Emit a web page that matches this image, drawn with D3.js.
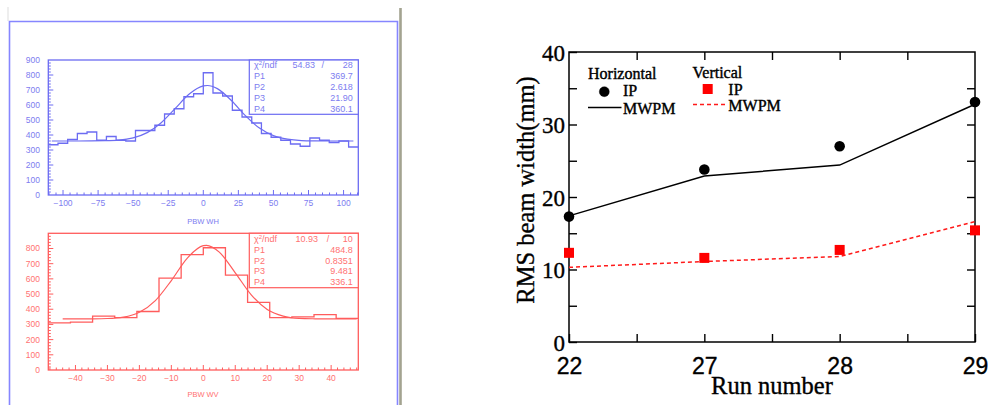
<!DOCTYPE html>
<html><head><meta charset="utf-8">
<script src="https://cdn.jsdelivr.net/npm/d3@7"></script>
<style>
body{margin:0;background:#fff;}
svg{display:block;}
</style></head><body>
<script>
const W = 991, H = 405;

// ---- left: two histograms with gaussian fits ----
const whCounts = [335,345,370,410,420,365,390,365,360,430,430,465,540,575,655,675,815,680,660,565,520,480,410,385,365,340,325,380,365,350,360,320];
const wvCounts = [310,315,355,345,385,605,760,805,625,445,345,350,365,340];
const whFitX = [-108,-90,-70,-60,-50,-40,-30,-20,-10,0,3,10,20,30,40,50,60,70,80,95,107];
const whFitY = [360,360,362,366,381,416,482,577,673,727,730,709,630,529,446,396,372,363,361,360,360];
const wvFitX = [-44,-35,-30,-25,-20,-15,-10,-5,0,1,5,10,15,20,25,30,35,40,48];
const wvFitY = [336,337,339,348,380,457,589,737,819,821,776,640,495,399,355,340,337,336,336];
const whStats = [["P1","369.7"],["P2","2.618"],["P3","21.90"],["P4","360.1"]];
const wvStats = [["P1","484.8"],["P2","0.8351"],["P3","9.481"],["P4","336.1"]];

// ---- right: RMS beam width per run ----
const runs = ["22","27","28","29"];
const hIP = [17.3,23.8,27.0,33.1];
const hMWPM = [17.4,22.9,24.4,32.8];
const vIP = [12.3,11.6,12.7,15.4];
const vMWPM = [10.3,11.1,11.8,16.6];

const svg = d3.select('body').append('svg').attr('width', W).attr('height', H);

// window frame bits
svg.append('line').attr('x1',8).attr('x2',8).attr('y1',7).attr('y2',21)
  .attr('stroke','#ddd').attr('stroke-width',1);
svg.append('path').attr('d','M9.5,405V21.5H397.5V405')
  .attr('fill','none').attr('stroke','#8686ff').attr('stroke-width',1.6);
svg.append('line').attr('x1',400.5).attr('x2',400.5).attr('y1',8).attr('y2',405)
  .attr('stroke','#a3a390').attr('stroke-width',2.6);

function histPanel(o) {
  const g = svg.append('g');
  const x = d3.scaleLinear().domain(o.xdom).range([48.3, 358.3]);
  const y = d3.scaleLinear().domain([0, 900]).range([o.bottom, o.top]);
  const n = o.counts.length;
  const bx = d3.scaleLinear().domain([0, n]).range(x.range());
  const font = '"Liberation Sans", Arial, sans-serif';

  // frame
  g.append('rect').attr('x', x.range()[0]).attr('y', o.top)
    .attr('width', x.range()[1]-x.range()[0]).attr('height', o.bottom-o.top)
    .attr('fill','none').attr('stroke', o.col).attr('stroke-width',1.3);

  // ticks inward
  const minorX = d3.range(Math.ceil(o.xdom[0]/o.minX)*o.minX, o.xdom[1], o.minX);
  g.selectAll('.mx').data(minorX).join('line')
    .attr('x1', d => x(d)).attr('x2', d => x(d))
    .attr('y1', o.bottom).attr('y2', d => o.bottom - (Math.abs(d % o.majX) < 1e-6 ? 5 : 2.5))
    .attr('stroke', o.col).attr('stroke-width',1);
  g.selectAll('.my').data(d3.range(20, 900, 20)).join('line')
    .attr('y1', d => y(d)).attr('y2', d => y(d))
    .attr('x1', x.range()[0]).attr('x2', d => x.range()[0] + (d % 100 === 0 ? 5 : 2.5))
    .attr('stroke', o.col).attr('stroke-width',1);

  // labels
  g.selectAll('.ly').data(o.yLabels).join('text')
    .attr('x', 40).attr('y', d => y(d) + 3).attr('text-anchor','end')
    .attr('font-family', font).attr('font-size', 8.5).attr('fill', o.txt)
    .text(d => d);
  g.selectAll('.lx').data(o.xLabels).join('text')
    .attr('x', d => x(d)).attr('y', o.bottom + 11).attr('text-anchor','middle')
    .attr('font-family', font).attr('font-size', 8.5).attr('fill', o.txt)
    .text(d => d3.format('')(d));
  g.append('text').attr('x', 203).attr('y', o.titleY).attr('text-anchor','middle')
    .attr('font-family', font).attr('font-size', 7.5).attr('fill', o.txt)
    .text(o.title);

  // histogram steps
  const pts = o.counts.map((c, i) => [bx(i), y(c)]);
  pts.push([bx(n), y(o.counts[n-1])]);
  g.append('path').attr('d', d3.line().curve(d3.curveStepAfter)(pts))
    .attr('fill','none').attr('stroke', o.col).attr('stroke-width',1.3);

  // fit curve
  g.append('path')
    .attr('d', d3.line().x((d,i) => x(o.fitX[i])).y(d => y(d)).curve(d3.curveMonotoneX)(o.fitY))
    .attr('fill','none').attr('stroke', o.col).attr('stroke-width',1.2);

  // stats box
  const sb = {x0: 249.3, x1: 358.3, y0: o.top, y1: o.statsBottom};
  g.append('rect').attr('x', sb.x0).attr('y', sb.y0).attr('width', sb.x1-sb.x0).attr('height', sb.y1-sb.y0)
    .attr('fill','#fff').attr('stroke', o.col).attr('stroke-width',1.2);
  const rowH = (sb.y1 - sb.y0) / 5;
  const st = g.append('g').attr('font-family', font).attr('font-size', 9).attr('fill', o.txt);
  const r0 = sb.y0 + rowH*0.5 + 3;
  const chi = st.append('text').attr('x', 254).attr('y', r0);
  chi.append('tspan').text('χ');
  chi.append('tspan').attr('font-size',6).attr('dy',-3).text('2');
  chi.append('tspan').attr('dy',3).text('/ndf');
  st.append('text').attr('x', o.chiX).attr('y', r0).attr('text-anchor','end').text(o.chi);
  st.append('text').attr('x', o.slashX).attr('y', r0).attr('text-anchor','middle').text('/');
  st.append('text').attr('x', 352.7).attr('y', r0).attr('text-anchor','end').text(o.ndf);
  o.stats.forEach((s, i) => {
    const yy = r0 + rowH*(i+1);
    st.append('text').attr('x', 254).attr('y', yy).text(s[0]);
    st.append('text').attr('x', 352.7).attr('y', yy).attr('text-anchor','end').text(s[1]);
  });
}

histPanel({
  col:'#6c6cf2', txt:'#7d7df0', xdom:[-110.5,110.5], top:60, bottom:195,
  counts: whCounts, fitX: whFitX, fitY: whFitY, minX:5, majX:25,
  xLabels: d3.range(-100, 101, 25), yLabels: d3.range(0, 901, 100),
  title:'PBW WH', titleY: 223.5, statsBottom: 114.3,
  chi:'54.83', chiX:315, slashX:322.7, ndf:'28', stats: whStats
});
histPanel({
  col:'#ff5c5c', txt:'#ff7272', xdom:[-48.5,48.5], top:233.3, bottom:370,
  counts: wvCounts, fitX: wvFitX, fitY: wvFitY, minX:2, majX:10,
  xLabels: d3.range(-40, 41, 10), yLabels: d3.range(0, 801, 100),
  title:'PBW WV', titleY: 397, statsBottom: 287.7,
  chi:'10.93', chiX:318, slashX:328, ndf:'10', stats: wvStats
});

// ---- right chart ----
const serif = '"Liberation Serif", "Times New Roman", serif';
const sans = '"Liberation Sans", Arial, sans-serif';
const m = {l: 569, r: 975, t: 52, b: 342};
const x = d3.scalePoint().domain(runs).range([m.l, m.r]);
const y = d3.scaleLinear().domain([0, 40]).range([m.b, m.t]);
const mids = runs.slice(1).map((r, i) => (x(runs[i]) + x(r)) / 2);
const xInv = d3.scaleIdentity();

const rc = svg.append('g');
rc.append('rect').attr('x', m.l).attr('y', m.t).attr('width', m.r-m.l).attr('height', m.b-m.t)
  .attr('fill','none').attr('stroke','#000').attr('stroke-width',1.5);

function styleAxis(s) {
  s.select('.domain').remove();
  s.selectAll('.tick line').attr('stroke','#000').attr('stroke-width',1.4);
}
const heavy = s => s.attr('stroke','#000').attr('stroke-width',0.35);
// y ticks left (major + minor), right
rc.append('g').attr('transform',`translate(${m.l},0)`)
  .call(d3.axisLeft(y).tickValues([0,10,20,30,40]).tickSize(-8).tickPadding(4))
  .call(styleAxis)
  .call(s => s.selectAll('text').attr('font-family', serif).attr('font-size', 23).attr('fill','#000').attr('dy','0.35em').call(heavy));
rc.append('g').attr('transform',`translate(${m.l},0)`)
  .call(d3.axisLeft(y).tickValues([5,15,25,35]).tickSize(-8).tickFormat(''))
  .call(styleAxis);
rc.append('g').attr('transform',`translate(${m.r},0)`)
  .call(d3.axisRight(y).tickValues(d3.range(5, 40, 5)).tickSize(-8).tickFormat(''))
  .call(styleAxis);
// x ticks bottom and top
rc.append('g').attr('transform',`translate(0,${m.b})`)
  .call(d3.axisBottom(x).tickSize(-8).tickPadding(16))
  .call(styleAxis)
  .call(s => s.selectAll('text').attr('font-family', sans).attr('font-size', 23).attr('fill','#000').call(heavy));
[m.b, m.t].forEach((yy, k) => {
  rc.append('g').attr('transform',`translate(0,${yy})`)
    .call((k ? d3.axisTop(xInv) : d3.axisBottom(xInv)).tickValues(k ? mids.concat(runs.slice(1,3).map(x)) : mids).tickSize(-8).tickFormat(''))
    .call(styleAxis);
});

rc.append('text').attr('x', 772).attr('y', 394).attr('text-anchor','middle')
  .attr('font-family', serif).attr('font-size', 24.5).text('Run number').call(heavy);
rc.append('text').attr('transform','translate(534,190) rotate(-90)').attr('text-anchor','middle')
  .attr('font-family', serif).attr('font-size', 24.5).text('RMS beam width(mm)').call(heavy);

// lines
const line = d3.line().x((d, i) => x(runs[i])).y(d => y(d));
rc.append('path').attr('d', line(hMWPM)).attr('fill','none').attr('stroke','#000').attr('stroke-width',1.5);
rc.append('path').attr('d', line(vMWPM)).attr('fill','none').attr('stroke','#ff1a1a').attr('stroke-width',1.5)
  .attr('stroke-dasharray','4,3');
rc.selectAll('.hip').data(hIP).join('circle')
  .attr('cx', (d, i) => x(runs[i])).attr('cy', d => y(d)).attr('r', 5.3).attr('fill','#000');
rc.selectAll('.vip').data(vIP).join('rect')
  .attr('x', (d, i) => x(runs[i]) - 5).attr('y', d => y(d) - 5).attr('width', 10).attr('height', 10)
  .attr('fill','#ff0000');

// legend
const lg = rc.append('g').attr('font-family', serif).attr('font-size', 16).attr('fill','#000')
  .attr('stroke','#000').attr('stroke-width',0.4);
lg.append('text').attr('x', 588).attr('y', 79).text('Horizontal');
lg.append('circle').attr('cx', 604.3).attr('cy', 91.7).attr('r', 5).attr('fill','#000');
lg.append('text').attr('x', 623).attr('y', 96).text('IP');
lg.append('line').attr('x1', 588).attr('x2', 621.5).attr('y1', 107.5).attr('y2', 107.5).attr('stroke','#000').attr('stroke-width',1.4);
lg.append('text').attr('x', 623).attr('y', 113.5).text('MWPM');
lg.append('text').attr('x', 692.5).attr('y', 77.5).text('Vertical');
lg.append('rect').attr('x', 702.7).attr('y', 84).attr('width', 10).attr('height', 10).attr('fill','#ff0000').attr('stroke','none');
lg.append('text').attr('x', 728.3).attr('y', 94.5).text('IP');
lg.append('line').attr('x1', 693).attr('x2', 725).attr('y1', 104.5).attr('y2', 104.5).attr('stroke','#ff1a1a').attr('stroke-width',1.4)
  .attr('stroke-dasharray','4,3');
lg.append('text').attr('x', 728.3).attr('y', 111).text('MWPM');
</script>
</body></html>
